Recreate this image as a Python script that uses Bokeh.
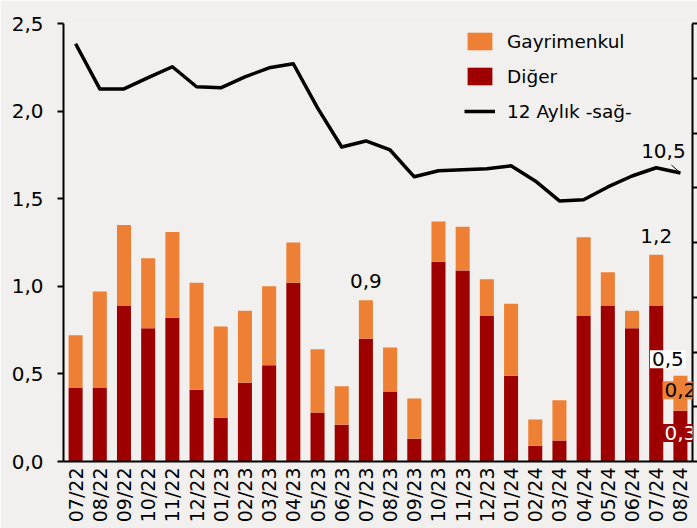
import numpy as np
from bokeh.plotting import figure
from bokeh.models import (Range1d, LinearAxis, FixedTicker, CustomJSTickFormatter,
                          Legend, LegendItem, Label, ColumnDataSource)
from bokeh.embed import file_html
from bokeh.resources import INLINE

months = ["07/22", "08/22", "09/22", "10/22", "11/22", "12/22", "01/23", "02/23", "03/23",
          "04/23", "05/23", "06/23", "07/23", "08/23", "09/23", "10/23", "11/23", "12/23",
          "01/24", "02/24", "03/24", "04/24", "05/24", "06/24", "07/24", "08/24"]
diger = [0.42, 0.42, 0.89, 0.76, 0.82, 0.41, 0.25, 0.45, 0.55, 1.02, 0.28, 0.21, 0.70,
         0.40, 0.13, 1.14, 1.09, 0.83, 0.49, 0.09, 0.12, 0.83, 0.89, 0.76, 0.89, 0.29]
gayrimenkul = [0.30, 0.55, 0.46, 0.40, 0.49, 0.61, 0.52, 0.41, 0.45, 0.23, 0.36, 0.22, 0.22,
               0.25, 0.23, 0.23, 0.25, 0.21, 0.41, 0.15, 0.23, 0.45, 0.19, 0.10, 0.29, 0.20]
aylik12 = [15.26, 13.61, 13.61, 14.02, 14.42, 13.69, 13.65, 14.05, 14.38, 14.53, 12.92,
           11.49, 11.71, 11.38, 10.40, 10.62, 10.66, 10.69, 10.80, 10.25, 9.52, 9.56,
           10.03, 10.43, 10.73, 10.54]
left_ticks = [0.0, 0.5, 1.0, 1.5, 2.0, 2.5]
right_ticks = [0, 2, 4, 6, 8, 10, 12, 14, 16]

BG = "#F1F0EE"
RED = "#9E0000"
ORANGE = "#EE8035"
FONT = "DejaVu Sans"

def fmt(v):
    return f"{v:.1f}".replace(".", ",")

idx = list(range(len(months)))
total = [d + g for d, g in zip(diger, gayrimenkul)]
src = ColumnDataSource(dict(x=idx, diger=diger, gayrimenkul=gayrimenkul, aylik=aylik12))

p = figure(width=697, height=528, x_range=Range1d(-0.5, len(months) - 0.5),
           y_range=Range1d(0, 2.5), output_backend="svg", toolbar_location=None,
           min_border_left=63, min_border_right=5, min_border_top=23, min_border_bottom=67,
           background_fill_color=BG, border_fill_color=BG, outline_line_color=None)
p.extra_y_ranges = {"right": Range1d(0, 16)}
p.xgrid.visible = False
p.ygrid.visible = False

bars = p.vbar_stack(["diger", "gayrimenkul"], x="x", width=0.58, color=[RED, ORANGE],
                    line_color=None, source=src)
line = p.line("x", "aylik", source=src, y_range_name="right", line_width=3.5,
              line_color="black", line_join="round")

# left axis
ya = p.yaxis[0]
ya.ticker = FixedTicker(ticks=left_ticks)
ya.formatter = CustomJSTickFormatter(code="return tick.toFixed(1).replace('.', ',');")
ya.major_tick_out = 6
ya.major_tick_in = 0
ya.minor_tick_out = 0
ya.minor_tick_in = 0
ya.major_label_standoff = 14
ya.major_label_text_font = FONT
ya.major_label_text_font_size = "20px"
ya.major_label_text_color = "black"
ya.axis_line_width = 2
ya.major_tick_line_width = 2
ya.axis_line_color = "black"

# bottom axis
xa = p.xaxis[0]
xa.ticker = FixedTicker(ticks=idx)
xa.formatter = CustomJSTickFormatter(args=dict(labels=months),
                                     code="return labels[Math.round(tick)];")
xa.major_label_orientation = np.pi / 2
xa.major_tick_out = 0
xa.major_tick_in = 0
xa.minor_tick_out = 0
xa.minor_tick_in = 0
xa.major_label_standoff = 6
xa.major_label_text_font = FONT
xa.major_label_text_font_size = "19px"
xa.major_label_text_color = "black"
xa.axis_line_width = 2
xa.axis_line_color = "black"

# right axis (labels fall outside the picture)
ra = LinearAxis(y_range_name="right", ticker=FixedTicker(ticks=right_ticks),
                formatter=CustomJSTickFormatter(code="return '';"))
ra.major_tick_out = 5
ra.major_tick_in = 0
ra.minor_tick_out = 0
ra.minor_tick_in = 0
ra.major_label_standoff = 0
ra.axis_line_width = 2
ra.major_tick_line_width = 2
ra.axis_line_color = "black"
p.add_layout(ra, "right")

legend = Legend(items=[LegendItem(label="Gayrimenkul", renderers=[bars[1]]),
                       LegendItem(label="Diğer", renderers=[bars[0]]),
                       LegendItem(label="12 Aylık -sağ-", renderers=[line])],
                location=(401, 339), orientation="vertical",
                background_fill_alpha=0, border_line_color=None, padding=0, margin=0,
                spacing=13, glyph_width=31, glyph_height=22, label_height=22,
                label_standoff=12, label_text_font=FONT, label_text_font_size="18.5px",
                label_text_color="black")
p.add_layout(legend)

# value labels above bars
for m in ["07/23", "07/24"]:
    i = months.index(m)
    p.add_layout(Label(x=i, y=total[i], y_offset=19, text=fmt(total[i]),
                       text_align="center", text_baseline="alphabetic",
                       text_font=FONT, text_font_size="20px", text_color="black"))

# line label with leader
last = len(months) - 1
p.add_layout(Label(x=last, y=aylik12[last], y_range_name="right", x_offset=-17, y_offset=22,
                   text=fmt(aylik12[last]), text_align="center", text_baseline="alphabetic",
                   text_font=FONT, text_font_size="20px", text_color="black"))
p.segment(x0=[last], y0=[aylik12[last]], x1=[last - 0.37], y1=[aylik12[last] + 0.29],
          y_range_name="right", line_color="black", line_width=1)

# boxed labels for last bar
p.add_layout(Label(x=last, y=total[last], x_offset=-12.5, y_offset=16.5,
                   text=fmt(total[last]), text_align="center", text_baseline="middle",
                   text_font=FONT, text_font_size="20px", text_color="black",
                   background_fill_color="white", padding=2, level="overlay"))
p.add_layout(Label(x=last, y=diger[last] + gayrimenkul[last] / 2, y_offset=3,
                   text=fmt(gayrimenkul[last]), text_align="center", text_baseline="middle",
                   text_font=FONT, text_font_size="20px", text_color="black",
                   background_fill_color=ORANGE, padding=2, level="overlay"))
p.add_layout(Label(x=last, y=diger[last] / 2, y_offset=3,
                   text=fmt(diger[last]), text_align="center", text_baseline="middle",
                   text_font=FONT, text_font_size="20px", text_color="white",
                   background_fill_color=RED, padding=2, level="overlay"))

open("out.html", "w").write(file_html(p, INLINE))
